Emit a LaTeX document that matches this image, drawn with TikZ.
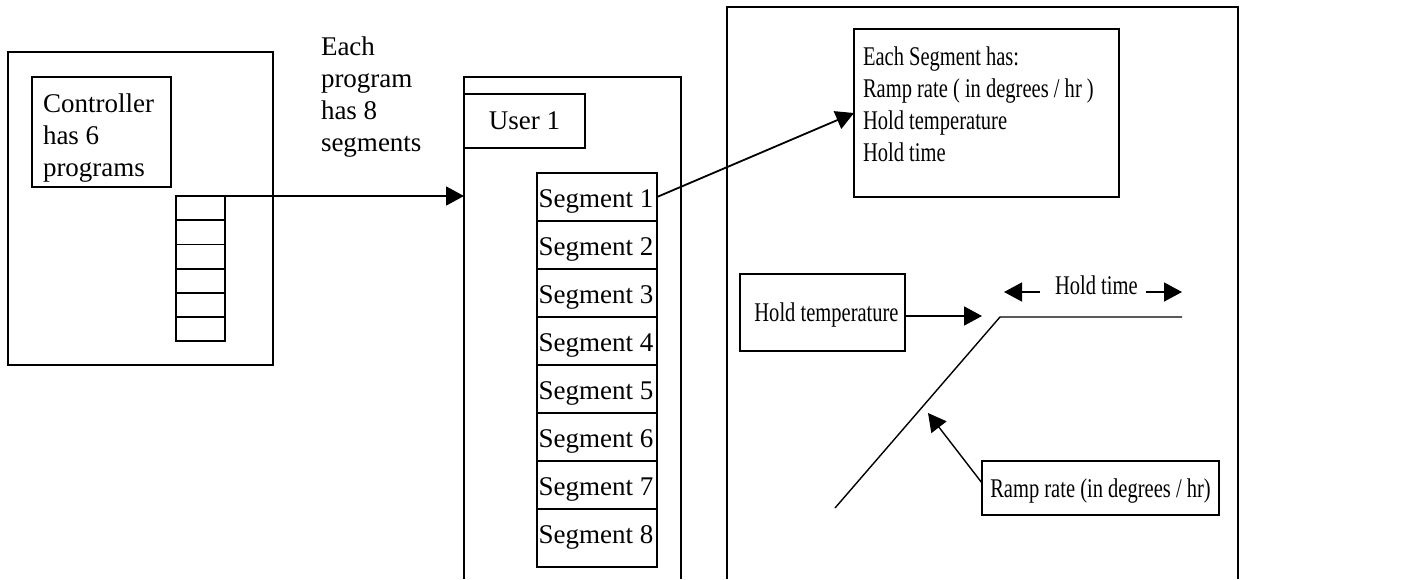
\documentclass[tikz,border=0pt]{standalone}
\usepackage{fontspec}
\setmainfont{Liberation Serif}
\newfontfamily\narrowserif[FakeStretch=0.76]{Liberation Serif}
\usetikzlibrary{arrows.meta,calc}
\begin{document}
\begin{tikzpicture}[x=1pt,y=-1pt,
  line width=1.8pt,
  every node/.style={font=\fontsize{27}{32}\selectfont},
  box/.style={draw, rectangle, inner sep=0pt, outer sep=0pt, anchor=north west},
  txt/.style={inner sep=0pt, outer sep=0pt, align=left},
  narrow/.style={font=\narrowserif\fontsize{27}{32}\selectfont},
  arr/.style={-{Triangle[length=18pt,width=19pt]}},
  thin/.style={line width=1.4pt},
]
\useasboundingbox (0,0) rectangle (1408,579);

% ---- left panel ----
\node[box, minimum width=265, minimum height=313] (ctrlpanel) at (8,52) {};
\node[box, minimum width=139, minimum height=110] (ctrl) at (32,77) {};
\node[txt, anchor=north west] (ctrltxt) at (43,94) {Controller\\has 6\\programs};
\foreach \i in {1,...,6}
  \node[box, minimum width=49, minimum height=24.2] (c\i) at (176,{196+24.2*(\i-1)}) {};

\node[txt, anchor=north west] (eachprog) at (321,36.5) {Each\\program\\has 8\\segments};

% ---- middle panel ----
\node[box, draw=none, minimum width=217, minimum height=502] (mid) at (464,77) {};
\draw (mid.south west) -- (mid.north west) -- (mid.north east) -- (mid.south east);
\node[box, minimum width=121, minimum height=54, text depth=0pt] (user) at (464,94) {User 1};
\foreach \i in {1,...,7}
  \node[box, minimum width=120, minimum height=48] (s\i) at (537,{173+48*(\i-1)}) {};
\node[box, minimum width=120, minimum height=58] (s8) at (537,509) {};
\foreach \i in {1,...,8}
  \node[txt, anchor=base west] (s\i txt) at ($(s\i.north west)+(1.5,34.5)$) {Segment \i};

\draw[arr] (c1.north east) -- (c1.north east -| mid.west);

% ---- right panel ----
\node[box, draw=none, minimum width=511, minimum height=572] (right) at (727,7) {};
\draw (right.south west) -- (right.north west) -- (right.north east) -- (right.south east);
\node[box, minimum width=265, minimum height=168] (esb) at (854,29) {};
\node[txt, narrow, anchor=north west] (esbtxt) at (863,46.5)
  {Each Segment has:\\Ramp rate ( in degrees / hr )\\Hold temperature\\Hold time};

\draw[arr] (s1.east) -- (esb.west);

\node[box, narrow, minimum width=165, minimum height=77, text depth=0pt] (ht) at (740,274) {\hspace*{8pt}Hold temperature};
\coordinate (htstart) at ($(ht.east)+(0,3.5)$);
\coordinate (httip) at (982,316);
\draw[arr] (htstart) -- (httip);

\coordinate (r0) at (835,508);
\coordinate (r1) at (1000,317);
\coordinate (r2) at (1182,317);
\draw[thin] (r0) -- (r1) -- (r2);

\node[txt, narrow, anchor=base west] (htime) at (1055,294) {Hold time};
\coordinate (hl0) at (1040,292);
\coordinate (hl1) at (1004,292);
\coordinate (hr0) at (1146,292);
\coordinate (hr1) at (1182,292);
\draw[arr, thin] (hl0) -- (hl1);
\draw[arr, thin] (hr0) -- (hr1);

\node[box, narrow, minimum width=237, minimum height=54, text depth=0pt] (rr) at (982,461) {Ramp rate (in degrees / hr)};
\coordinate (rrstart) at ($(rr.north west)+(0,22)$);
\coordinate (rrtip) at (928,413);
\draw[arr, thin] (rrstart) -- (rrtip);
\end{tikzpicture}
\end{document}
